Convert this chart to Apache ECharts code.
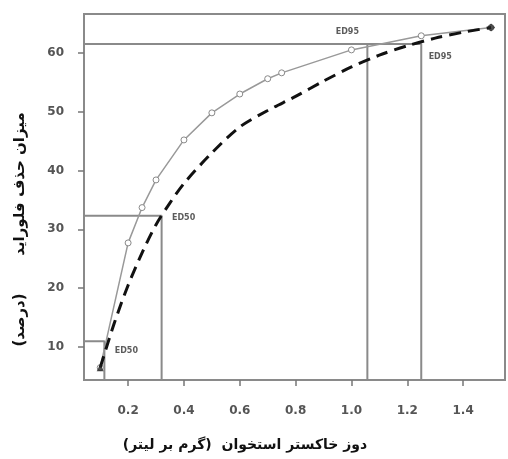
<!DOCTYPE html>
<html>
<head>
<meta charset="utf-8">
<script src="https://cdn.jsdelivr.net/npm/echarts@6/dist/echarts.min.js"></script>
<style>
  html, body { margin: 0; padding: 0; background: #fff; }
  #main { width: 508px; height: 459px; }
</style>
</head>
<body>
<div id="main"></div>
<script>
// observed points (solid curve, open circles)
var obsX = [0.1, 0.2, 0.25, 0.3, 0.4, 0.5, 0.6, 0.7, 0.75, 1.0, 1.25, 1.5];
var obsY = [6.5, 27.7, 33.7, 38.4, 45.2, 49.8, 53.0, 55.6, 56.6, 60.5, 62.9, 64.3];
// fitted curve (dashed)
var fitX = [0.1, 0.15, 0.2, 0.25, 0.3, 0.35, 0.4, 0.5, 0.6, 0.7, 0.8, 0.9, 1.0, 1.1, 1.2, 1.3, 1.4, 1.5];
var fitY = [6.5, 14.0, 20.5, 26.0, 30.8, 34.5, 37.8, 43.0, 47.4, 50.2, 52.6, 55.2, 57.6, 59.6, 61.2, 62.5, 63.5, 64.3];
// ED points [x, y]
var ed50Obs = [0.115, 11.0];
var ed50Fit = [0.32, 32.3];
var ed95Obs = [1.057, 61.5];
var ed95Fit = [1.25, 61.5];
var xTicks = [0.2, 0.4, 0.6, 0.8, 1.0, 1.2, 1.4];
var yTicks = [10, 20, 30, 40, 50, 60];
var xMin = 0.042, xMax = 1.55, yMin = 4.4, yMax = 66.6;

var myChart = echarts.init(document.getElementById('main'));

function zip(xs, ys) {
    return xs.map(function (x, i) { return [x, ys[i]]; });
}
function edPath(p) {
    return [[xMin, p[1]], [p[0], p[1]], [p[0], yMin]];
}

var refStyle = { color: '#8a8a8a', width: 2 };
var labelFont = { fontFamily: 'DejaVu Sans', fontSize: 8, color: '#333', fontWeight: 'bold' };

var option = {
    animation: false,
    grid: {
        left: 84, right: 3, top: 14, bottom: 79,
        show: true, borderColor: '#8a8a8a', borderWidth: 2, backgroundColor: 'transparent'
    },
    xAxis: {
        type: 'value', min: xMin, max: xMax,
        splitLine: { show: false },
        axisLine: { show: false },
        axisTick: { show: true, customValues: xTicks, length: 6, lineStyle: { color: '#777', width: 1.5 } },
        axisLabel: {
            customValues: xTicks, margin: 25, color: '#555', fontSize: 12, fontWeight: 'bold',
            fontFamily: 'DejaVu Sans',
            formatter: function (v) { return v.toFixed(1); }
        }
    },
    yAxis: {
        type: 'value', min: yMin, max: yMax,
        splitLine: { show: false },
        axisLine: { show: false },
        axisTick: { show: true, customValues: yTicks, length: 6, lineStyle: { color: '#777', width: 1.5 } },
        axisLabel: {
            customValues: yTicks, margin: 20, color: '#555', fontSize: 12, fontWeight: 'bold',
            fontFamily: 'DejaVu Sans'
        }
    },
    graphic: [
        {
            type: 'text', x: 20, y: 184, rotation: Math.PI / 2,
            style: { text: 'میزان حذف فلوراید', font: 'bold 15px "DejaVu Sans"', fill: '#111',
                     align: 'center', verticalAlign: 'middle' }
        },
        {
            type: 'text', x: 20, y: 320, rotation: Math.PI / 2,
            style: { text: '(درصد)', font: 'bold 15px "DejaVu Sans"', fill: '#111',
                     align: 'center', verticalAlign: 'middle' }
        },
        {
            type: 'text', x: 245, y: 445,
            style: { text: 'دوز خاکستر استخوان  (گرم بر لیتر)', font: 'bold 14px "DejaVu Sans"', fill: '#111',
                     align: 'center', verticalAlign: 'middle' }
        }
    ],
    series: [
        { type: 'line', data: edPath(ed50Obs), symbol: 'none', lineStyle: refStyle, z: 1 },
        { type: 'line', data: edPath(ed50Fit), symbol: 'none', lineStyle: refStyle, z: 1 },
        { type: 'line', data: edPath(ed95Obs), symbol: 'none', lineStyle: refStyle, z: 1 },
        { type: 'line', data: edPath(ed95Fit), symbol: 'none', lineStyle: refStyle, z: 1 },
        {
            type: 'line', data: zip(obsX, obsY),
            symbol: 'circle', symbolSize: 6,
            itemStyle: { color: '#fff', borderColor: '#888', borderWidth: 1 },
            lineStyle: { color: '#999', width: 1.5 }, z: 3
        },
        {
            type: 'line', data: zip(fitX, fitY), smooth: 0.3,
            symbol: 'none',
            lineStyle: { color: '#111', width: 3, type: [12, 7] }, z: 4
        },
        {
            type: 'scatter', symbolSize: 0, z: 5,
            data: [
                { value: ed95Obs, label: { show: true, formatter: 'ED95', offset: [-20, -12] } },
                { value: ed95Fit, label: { show: true, formatter: 'ED95', offset: [19, 13] } },
                { value: ed50Fit, label: { show: true, formatter: 'ED50', offset: [22, 2] } },
                { value: ed50Obs, label: { show: true, formatter: 'ED50', offset: [22, 10] } }
            ],
            label: Object.assign({ position: 'inside' }, labelFont)
        },
        {
            type: 'scatter', z: 6,
            data: [
                { value: [obsX[0], obsY[0]], symbol: 'triangle', symbolSize: 7 },
                { value: [obsX[obsX.length - 1], obsY[obsY.length - 1]], symbol: 'diamond', symbolSize: 8 }
            ],
            itemStyle: { color: '#222' }
        }
    ]
};

myChart.setOption(option);
</script>
</body>
</html>
